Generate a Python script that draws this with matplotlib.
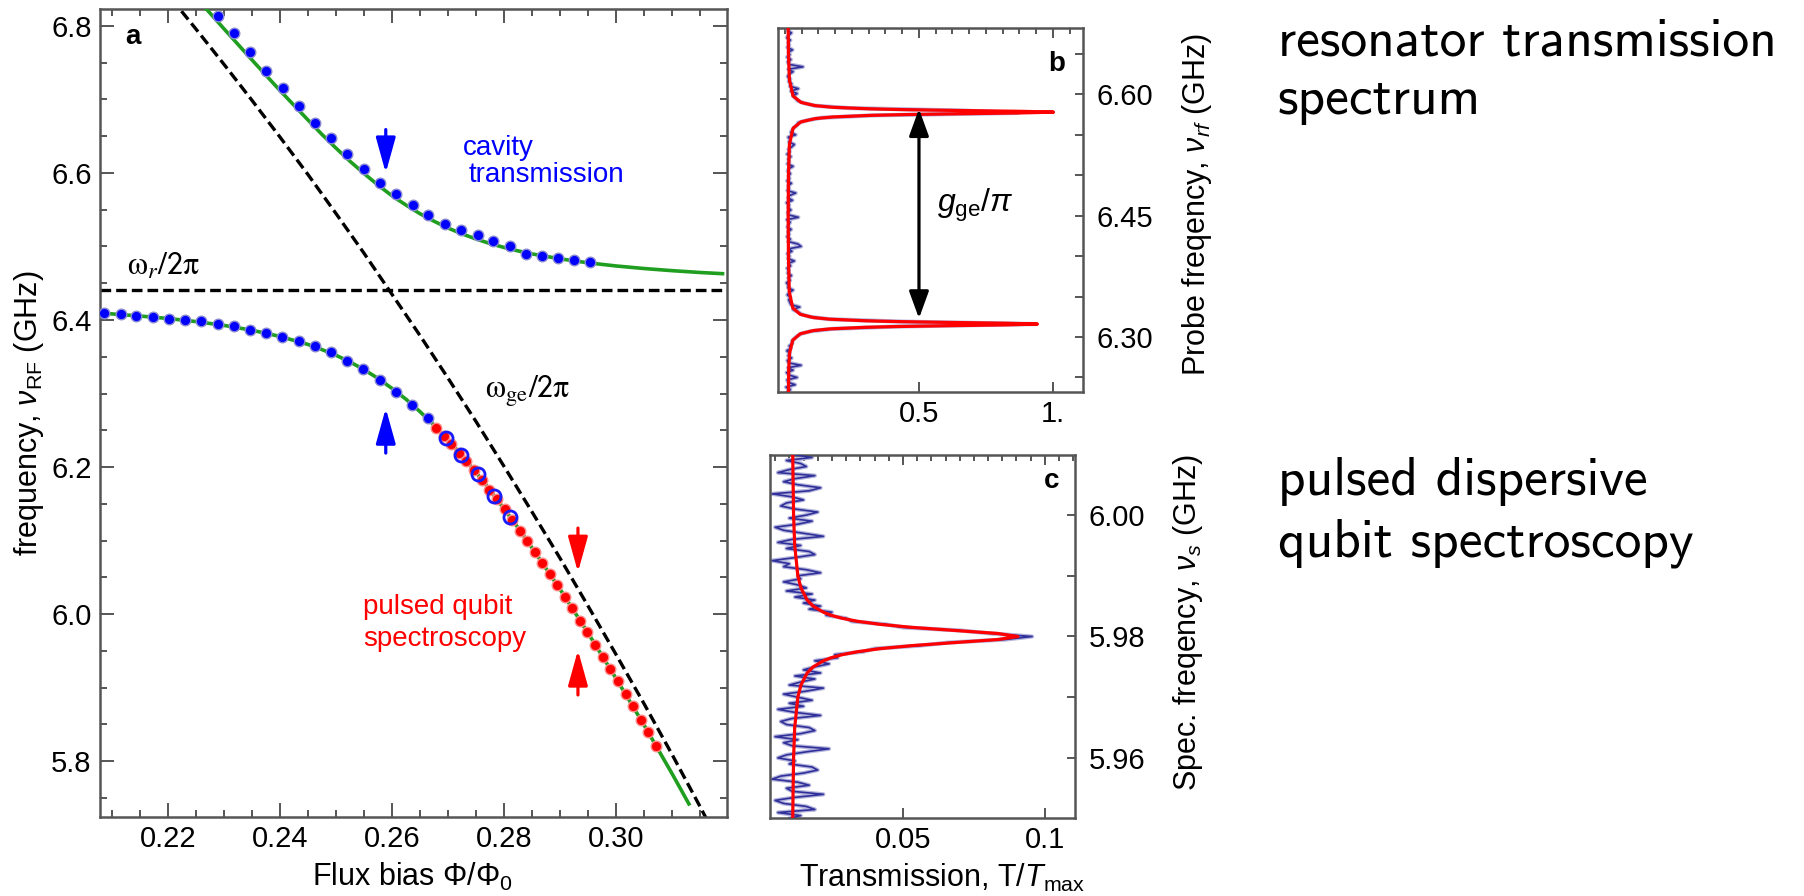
import numpy as np
import matplotlib
matplotlib.use("Agg")
import matplotlib.pyplot as plt
from matplotlib.ticker import MultipleLocator, FixedLocator, FixedFormatter, FormatStrFormatter

plt.rcParams['font.family'] = ['Liberation Sans', 'DejaVu Sans']
plt.rcParams['mathtext.fontset'] = 'custom'
plt.rcParams['mathtext.rm'] = 'Liberation Sans'
plt.rcParams['mathtext.it'] = 'Liberation Sans:italic'
plt.rcParams['mathtext.bf'] = 'Liberation Sans:bold'

# ---------------- panel a : avoided crossing ----------------
# cavity transmission peaks, upper branch
upper_phi = [0.2289, 0.2318, 0.2346, 0.2375, 0.2405, 0.2434, 0.2463, 0.2491,
             0.2520, 0.2550, 0.2579, 0.2608, 0.2637, 0.2665, 0.2694, 0.2723,
             0.2753, 0.2781, 0.2810, 0.2839, 0.2868, 0.2896, 0.2925, 0.2954]
upper_f = [6.814, 6.790, 6.764, 6.739, 6.715, 6.691, 6.668, 6.647,
           6.626, 6.606, 6.587, 6.571, 6.556, 6.543, 6.531, 6.522,
           6.515, 6.508, 6.501, 6.490, 6.487, 6.485, 6.482, 6.479]

# cavity transmission peaks, lower branch
lower_phi = [0.2086, 0.2116, 0.2143, 0.2173, 0.2202, 0.2230, 0.2259, 0.2289,
             0.2318, 0.2346, 0.2376, 0.2404, 0.2434, 0.2463, 0.2491, 0.2520,
             0.2549, 0.2579, 0.2607, 0.2636, 0.2665]
lower_f = [6.409, 6.408, 6.406, 6.404, 6.402, 6.400, 6.398, 6.395,
           6.392, 6.386, 6.382, 6.377, 6.371, 6.364, 6.356, 6.344,
           6.333, 6.319, 6.302, 6.284, 6.267]

# pulsed qubit spectroscopy peaks
qubit_phi = [0.2679, 0.2693, 0.2706, 0.2720, 0.2733, 0.2747, 0.2760, 0.2774,
             0.2787, 0.2801, 0.2814, 0.2828, 0.2841, 0.2855, 0.2868, 0.2882,
             0.2895, 0.2909, 0.2922, 0.2936, 0.2949, 0.2963, 0.2976, 0.2990,
             0.3003, 0.3017, 0.3030, 0.3044, 0.3057, 0.3071]
qubit_f = [6.2531, 6.2423, 6.2316, 6.2193, 6.2079, 6.1955, 6.1830, 6.1691,
           6.1563, 6.1423, 6.1285, 6.1136, 6.0997, 6.0845, 6.0699, 6.0541,
           6.0395, 6.0232, 6.0076, 5.9909, 5.9754, 5.9582, 5.9421, 5.9248,
           5.9087, 5.8909, 5.8744, 5.8566, 5.8397, 5.8212]

# cavity transmission measured in the dispersive regime (open circles)
open_phi = [0.2696, 0.2724, 0.2753, 0.2782, 0.2811]
open_f = [6.2400, 6.2158, 6.1899, 6.1612, 6.1317]

# dressed-state theory lines
fit_up_phi = [0.220, 0.225, 0.230, 0.235, 0.240, 0.245, 0.2475, 0.250, 0.2525,
              0.255, 0.2575, 0.260, 0.2625, 0.265, 0.2675, 0.270, 0.2725, 0.275,
              0.2775, 0.280, 0.2825, 0.285, 0.290, 0.295, 0.300, 0.305, 0.310,
              0.315, 0.319]
fit_up_f = [6.8819, 6.8391, 6.7963, 6.7539, 6.7123, 6.6722, 6.6525, 6.6339, 6.6160,
            6.5994, 6.5836, 6.5690, 6.5564, 6.5446, 6.5344, 6.5251, 6.5172, 6.5102,
            6.5040, 6.4987, 6.4940, 6.4899, 6.4832, 6.4778, 6.4735, 6.4700, 6.4671,
            6.4646, 6.4630]
fit_lo_phi = [0.205, 0.210, 0.215, 0.220, 0.225, 0.230, 0.235, 0.240, 0.245,
              0.2475, 0.250, 0.2525, 0.255, 0.2575, 0.260, 0.2625, 0.265, 0.2675,
              0.270, 0.2725, 0.275, 0.2775, 0.280, 0.2825, 0.285, 0.290, 0.295,
              0.300, 0.305, 0.310, 0.313]
fit_lo_f = [6.4106, 6.4083, 6.4054, 6.4021, 6.3979, 6.3927, 6.3861, 6.3777, 6.3668,
            6.3598, 6.3521, 6.3430, 6.3326, 6.3206, 6.3070, 6.2923, 6.2754, 6.2572,
            6.2369, 6.2159, 6.1929, 6.1687, 6.1434, 6.1175, 6.0901, 6.0339, 5.9742,
            5.9125, 5.8490, 5.7829, 5.7418]

# bare qubit and resonator frequencies
qubit_bare_phi = [0.220, 0.225, 0.230, 0.235, 0.240, 0.245, 0.250, 0.255, 0.260,
                  0.265, 0.270, 0.275, 0.280, 0.285, 0.290, 0.295, 0.300, 0.305,
                  0.310, 0.315, 0.320]
qubit_bare_f = [6.843, 6.796, 6.748, 6.699, 6.649, 6.598, 6.545, 6.491, 6.435,
                6.379, 6.321, 6.262, 6.201, 6.139, 6.076, 6.011, 5.945, 5.878,
                5.809, 5.738, 5.665]
resonator_f = 6.441

# ---------------- panel b : vacuum Rabi splitting ----------------
b_meas_T = [0.010, 0.020, 0.004, 0.038, 0.012, 0.008, 0.045, 0.015, 0.006, 0.030,
            0.011, 0.060, 0.014, 0.009, 0.025, 0.012, 0.018, 0.007, 0.022, 0.016,
            0.028, 0.026, 0.035, 0.045, 0.060, 0.095, 0.175, 0.420, 0.935, 0.440,
            0.165, 0.092, 0.062, 0.048, 0.030, 0.055, 0.022, 0.018, 0.014, 0.020,
            0.009, 0.016, 0.030, 0.011, 0.013, 0.006, 0.019, 0.012, 0.024, 0.010,
            0.015, 0.008, 0.021, 0.013, 0.035, 0.011, 0.017, 0.009, 0.026, 0.014,
            0.060, 0.048, 0.012, 0.020, 0.008, 0.016, 0.011, 0.023, 0.009, 0.014,
            0.019, 0.007, 0.050, 0.013, 0.010, 0.022, 0.012, 0.016, 0.006, 0.028,
            0.011, 0.018, 0.040, 0.009, 0.015, 0.012, 0.024, 0.008, 0.017, 0.013,
            0.020, 0.010, 0.014, 0.030, 0.009, 0.016, 0.012, 0.022, 0.008, 0.018,
            0.013, 0.025, 0.035, 0.015, 0.020, 0.012, 0.040, 0.022, 0.028, 0.034,
            0.045, 0.050, 0.085, 0.135, 0.330, 0.870, 0.660, 0.240, 0.110, 0.072,
            0.048, 0.040, 0.030, 0.045, 0.022, 0.050, 0.018, 0.025, 0.014, 0.020,
            0.010, 0.016, 0.030, 0.012, 0.067, 0.015, 0.010, 0.022, 0.008, 0.018,
            0.013, 0.028, 0.009, 0.016, 0.012, 0.020, 0.007, 0.014, 0.024, 0.010,
            0.015]
b_meas_f = np.linspace(6.232, 6.682, len(b_meas_T))

b_fit_f = [6.232, 6.260, 6.280, 6.296, 6.304, 6.308, 6.310, 6.312, 6.313, 6.314,
           6.315, 6.316, 6.317, 6.318, 6.319, 6.320, 6.322, 6.324, 6.328, 6.336,
           6.356, 6.400, 6.450, 6.500, 6.538, 6.558, 6.566, 6.570, 6.572, 6.574,
           6.575, 6.576, 6.577, 6.578, 6.579, 6.580, 6.581, 6.582, 6.584, 6.586,
           6.590, 6.598, 6.618, 6.650, 6.682]
b_fit_T = [0.013, 0.014, 0.017, 0.029, 0.057, 0.107, 0.168, 0.303, 0.428, 0.613,
           0.829, 0.942, 0.829, 0.613, 0.428, 0.303, 0.168, 0.107, 0.057, 0.029,
           0.016, 0.013, 0.012, 0.013, 0.0165, 0.030, 0.060, 0.113, 0.178, 0.322,
           0.455, 0.652, 0.882, 1.002, 0.882, 0.652, 0.455, 0.322, 0.178, 0.113,
           0.060, 0.030, 0.0165, 0.013, 0.012]
b_split_f = [6.323, 6.582]

# ---------------- panel c : qubit spectroscopy line ----------------
c_meas_T = [0.010, 0.014, 0.006, 0.019, 0.016, 0.008, 0.005, 0.012, 0.022, 0.011,
            0.009, 0.017, 0.013, 0.004, 0.007, 0.015, 0.020, 0.018, 0.010, 0.012,
            0.006, 0.009, 0.016, 0.024, 0.011, 0.008, 0.013, 0.005, 0.014, 0.019,
            0.017, 0.009, 0.007, 0.011, 0.021, 0.012, 0.006, 0.015, 0.010, 0.018,
            0.013, 0.008, 0.016, 0.022, 0.010, 0.014, 0.019, 0.012, 0.021, 0.015,
            0.019, 0.024, 0.019, 0.027, 0.026, 0.036, 0.040, 0.056, 0.066, 0.086,
            0.0955, 0.081, 0.070, 0.050, 0.044, 0.032, 0.030, 0.023, 0.025, 0.017,
            0.021, 0.015, 0.019, 0.012, 0.018, 0.009, 0.016, 0.013, 0.008, 0.014,
            0.013, 0.021, 0.016, 0.008, 0.010, 0.004, 0.012, 0.019, 0.017, 0.009,
            0.014, 0.006, 0.011, 0.022, 0.015, 0.008, 0.005, 0.013, 0.018, 0.010,
            0.016, 0.020, 0.012, 0.007, 0.009, 0.015, 0.011, 0.004, 0.017, 0.021,
            0.013, 0.008, 0.012, 0.019, 0.006, 0.010, 0.016, 0.014, 0.009, 0.018,
            0.011]
c_meas_f = np.linspace(5.950, 6.010, len(c_meas_T))

c_fit_f = [5.950, 5.960, 5.965, 5.970, 5.972, 5.974, 5.975, 5.976, 5.9765, 5.977,
           5.9775, 5.978, 5.9785, 5.979, 5.9795, 5.980, 5.9805, 5.981, 5.9815, 5.982,
           5.9825, 5.983, 5.9835, 5.984, 5.985, 5.986, 5.988, 5.990, 5.995, 6.000,
           6.010]
c_fit_T = [0.0112, 0.0115, 0.0119, 0.0130, 0.0141, 0.0163, 0.0184, 0.0220, 0.0247, 0.0286,
           0.0341, 0.0420, 0.0533, 0.0682, 0.0834, 0.0905, 0.0834, 0.0682, 0.0533, 0.0420,
           0.0341, 0.0286, 0.0247, 0.0220, 0.0184, 0.0163, 0.0141, 0.0130, 0.0119, 0.0115,
           0.0112]

# ---------------- styling ----------------
W, H = 1804, 896
SPINE = '#555555'
GREEN = '#1f9e1f'
BLUE = '#0000ff'
RED = '#ff0000'
TRACE = '#30309a'
TRACE_HALO = '#b4b4dc'
TICK_FS = 21
LABEL_FS = 22


def frame(px_left, px_top, px_right, px_bottom):
    return [px_left / W, 1 - px_bottom / H, (px_right - px_left) / W, (px_bottom - px_top) / H]


def style_spines(ax):
    for s in ax.spines.values():
        s.set_color(SPINE)
        s.set_linewidth(1.8)


fig = plt.figure(figsize=(W / 100, H / 100), dpi=100)

# ---- panel a ----
ax = fig.add_axes(frame(100, 9, 727, 817))
style_spines(ax)
ax.set_xlim(0.2079, 0.3198)
ax.set_ylim(5.724, 6.823)

dash = dict(color='black', lw=2.4, dashes=(3.2, 1.5))
ax.axhline(resonator_f, **dash, zorder=2)
ax.plot(qubit_bare_phi, qubit_bare_f, **dash, zorder=2)
ax.plot(fit_up_phi, fit_up_f, color=GREEN, lw=2.6, zorder=3)
ax.plot(fit_lo_phi, fit_lo_f, color=GREEN, lw=2.6, zorder=3)

dot = dict(ls='none', marker='o', ms=7.6, mew=1.0, zorder=4)
ax.plot(upper_phi, upper_f, mfc=BLUE, mec='#8a8ad2', **dot)
ax.plot(lower_phi, lower_f, mfc=BLUE, mec='#8a8ad2', **dot)
ax.plot(qubit_phi, qubit_f, mfc=RED, mec='#ff8a8a', **dot)
ax.plot(open_phi, open_f, ls='none', marker='o', ms=9.4, mfc='none', mec='#1a1aff',
        mew=2.0, zorder=6)


def arrow(ax, tail, tip, color, scale=12, hl=1.8, hw=0.5, lw=2.3):
    ax.annotate('', xy=tip, xytext=tail,
                arrowprops=dict(arrowstyle=f'-|>,head_length={hl},head_width={hw}',
                                color=color, lw=lw, shrinkA=0, shrinkB=0,
                                mutation_scale=scale), zorder=7)


arrow(ax, (0.2589, 6.659), (0.2589, 6.600), BLUE)
arrow(ax, (0.2589, 6.219), (0.2589, 6.280), BLUE)
arrow(ax, (0.2932, 6.117), (0.2932, 6.057), RED)
arrow(ax, (0.2932, 5.890), (0.2932, 5.951), RED)

ax.text(0.2127, 6.461, r'$\mathrm{\omega}_r/\mathsf{2}\mathrm{\pi}$', fontsize=23,
        va='baseline', ha='left', math_fontfamily='stix')
ax.text(0.2766, 6.294, r'$\mathrm{\omega}_{\mathrm{ge}}/\mathsf{2}\mathrm{\pi}$', fontsize=23,
        va='baseline', ha='left', math_fontfamily='stix')
ax.text(0.2727, 6.6245, 'cavity', fontsize=20, color=BLUE, va='baseline')
ax.text(0.2736, 6.5878, 'transmission', fontsize=20, color=BLUE, va='baseline')
ax.text(0.2549, 6.000, 'pulsed qubit', fontsize=20, color=RED, va='baseline')
ax.text(0.2549, 5.957, 'spectroscopy', fontsize=20, color=RED, va='baseline')
ax.text(0.2137, 6.785, 'a', fontsize=20, fontweight='bold', ha='center', va='center')

ax.xaxis.set_major_locator(FixedLocator([0.22, 0.24, 0.26, 0.28, 0.30]))
ax.xaxis.set_major_formatter(FormatStrFormatter('%.2f'))
ax.xaxis.set_minor_locator(MultipleLocator(0.005))
ax.yaxis.set_major_locator(FixedLocator([5.8, 6.0, 6.2, 6.4, 6.6, 6.8]))
ax.yaxis.set_major_formatter(FormatStrFormatter('%.1f'))
ax.yaxis.set_minor_locator(MultipleLocator(0.05))
ax.tick_params(which='both', direction='in', top=True, right=True, color=SPINE,
               labelsize=TICK_FS, width=1.4)
ax.tick_params(which='major', length=10, pad=6)
ax.tick_params(which='minor', length=5)

fig.text(29 / W, 1 - 413 / H, r'frequency, $\nu_{\rm RF}$ (GHz)', rotation=90,
         ha='center', va='center', fontsize=LABEL_FS)
fig.text(413 / W, 1 - 877 / H, r'Flux bias $\Phi/\Phi_0$', ha='center', va='center',
         fontsize=LABEL_FS)

# ---- panel b ----
bx = fig.add_axes(frame(778, 28, 1083, 392))
style_spines(bx)
bx.set_xlim(-0.026, 1.112)
bx.set_ylim(6.232, 6.682)
bx.plot(b_meas_T, b_meas_f, color=TRACE_HALO, lw=3.0, zorder=2)
bx.plot(b_meas_T, b_meas_f, color=TRACE, lw=1.2, zorder=3)
bx.plot(b_fit_T, b_fit_f, color=RED, lw=2.3, zorder=4)
bx.annotate('', xy=(0.5, b_split_f[0]), xytext=(0.5, b_split_f[1]),
            arrowprops=dict(arrowstyle='<|-|>,head_length=1.65,head_width=0.6',
                            color='black', lw=2.3, shrinkA=0, shrinkB=0,
                            mutation_scale=10), zorder=5)
bx.text(0.709, 6.463, r'$g_{\rm ge}/\pi$', fontsize=23, ha='center', va='center')
bx.text(1.015, 6.637, 'b', fontsize=20, fontweight='bold', ha='center', va='center')

bx.xaxis.set_major_locator(FixedLocator([0.5, 1.0]))
bx.xaxis.set_major_formatter(FixedFormatter(['0.5', '1.']))
bx.xaxis.set_minor_locator(MultipleLocator(0.0625))
bx.yaxis.set_major_locator(FixedLocator([6.30, 6.45, 6.60]))
bx.yaxis.set_major_formatter(FormatStrFormatter('%.2f'))
bx.yaxis.set_minor_locator(MultipleLocator(0.05))
bx.tick_params(which='both', direction='in', color=SPINE, width=1.4, labelsize=TICK_FS)
bx.tick_params(axis='y', which='both', left=False, right=True, labelleft=False,
               labelright=True, length=6, pad=10)
bx.tick_params(axis='x', which='major', top=True, bottom=True, length=7, pad=6)
bx.tick_params(axis='x', which='minor', top=True, bottom=False, length=4)
fig.text(1197 / W, 1 - 205 / H, r'Probe freqency, $\nu_{rf}$ (GHz)', rotation=90,
         ha='center', va='center', fontsize=LABEL_FS)

# ---- panel c ----
cx = fig.add_axes(frame(770, 455, 1075, 818))
style_spines(cx)
cx.set_xlim(0.0032, 0.1106)
cx.set_ylim(5.9501, 6.0099)
cx.plot(c_meas_T, c_meas_f, color=TRACE_HALO, lw=3.0, zorder=2)
cx.plot(c_meas_T, c_meas_f, color=TRACE, lw=1.2, zorder=3)
cx.plot(c_fit_T, c_fit_f, color=RED, lw=2.3, zorder=4)
cx.text(0.1025, 6.0056, 'c', fontsize=20, fontweight='bold', ha='center', va='center')

cx.xaxis.set_major_locator(FixedLocator([0.05, 0.1]))
cx.xaxis.set_major_formatter(FixedFormatter(['0.05', '0.1']))
cx.xaxis.set_minor_locator(MultipleLocator(0.005))
cx.yaxis.set_major_locator(FixedLocator([5.96, 5.98, 6.00]))
cx.yaxis.set_major_formatter(FormatStrFormatter('%.2f'))
cx.yaxis.set_minor_locator(FixedLocator([5.97, 5.99]))
cx.tick_params(which='both', direction='in', color=SPINE, width=1.4, labelsize=TICK_FS)
cx.tick_params(axis='y', which='both', left=False, right=True, labelleft=False,
               labelright=True, length=6, pad=10)
cx.tick_params(axis='x', which='major', top=True, bottom=True, length=7, pad=6)
cx.tick_params(axis='x', which='minor', top=True, bottom=False, length=4)
fig.text(1188 / W, 1 - 622 / H, r'Spec. freqency, $\nu_s$ (GHz)', rotation=90,
         ha='center', va='center', fontsize=LABEL_FS)
fig.text(942 / W, 1 - 878 / H, r'Transmission, T/$T_{\rm max}$', ha='center',
         va='center', fontsize=LABEL_FS)

# ---- side captions ----
cap = dict(fontfamily='cmss10', fontsize=38.5, ha='left', va='baseline')
fig.text(1278 / W, 1 - 55 / H, 'resonator transmission', **cap)
fig.text(1278 / W, 1 - 114 / H, 'spectrum', **cap)
fig.text(1278 / W, 1 - 495 / H, 'pulsed dispersive', **cap)
fig.text(1278 / W, 1 - 556 / H, 'qubit spectroscopy', **cap)

fig.savefig('out.png', dpi=100)
